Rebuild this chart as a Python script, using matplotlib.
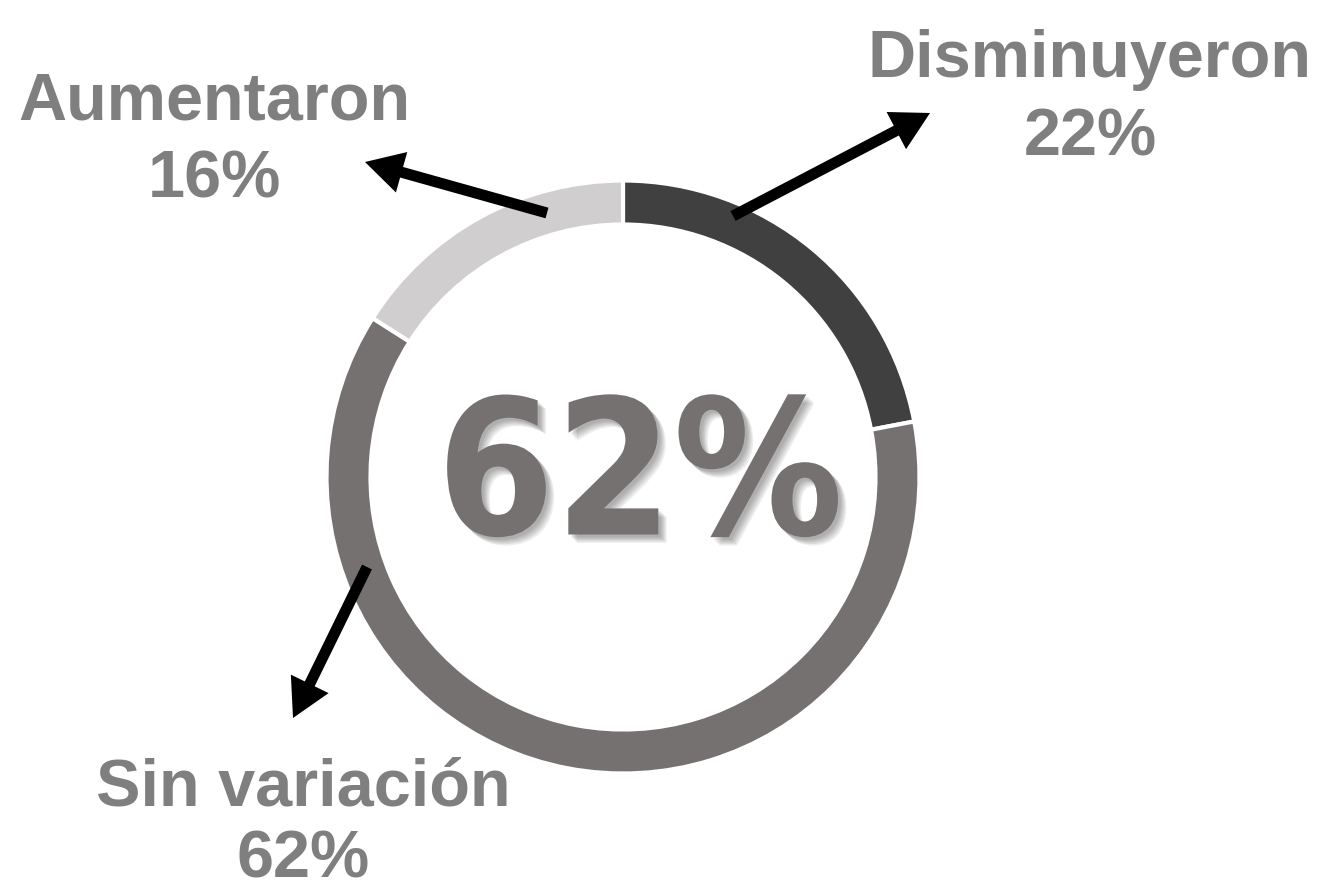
import matplotlib
matplotlib.use("Agg")
import matplotlib.pyplot as plt
import matplotlib.patheffects as pe

# data
categories = ["Disminuyeron", "Sin variación", "Aumentaron"]
percentages = [22, 62, 16]
colors = ["#404040", "#757171", "#d0cece"]

W, H = 1326, 889
LABEL_COLOR = "#7f7f7f"

fig = plt.figure(figsize=(W / 100, H / 100), dpi=100)
ax = fig.add_axes([0, 0, 1, 1])

# ring, drawn in pixel-like data units (y measured upward)
cx, cy = 623, H - 477
r_out, ring_w, gap = 295, 41, 3

ax.pie(
    percentages,
    colors=colors,
    startangle=90,
    counterclock=False,
    center=(cx, cy),
    radius=r_out + gap / 2,
    wedgeprops=dict(width=ring_w + gap, edgecolor="white", linewidth=gap),
)

ax.set_xlim(0, W)
ax.set_ylim(0, H)
ax.set_aspect("equal")
ax.axis("off")

# big number in the middle (largest share), soft shadow built from a few layers
big = max(percentages)
shadow = [
    pe.SimplePatchShadow(offset=(d, -d), shadow_rgbFace="black", alpha=0.07)
    for d in (2, 3, 4, 5, 6)
]
ax.text(
    640, H - 482, f"{big}%",
    ha="center", va="center",
    fontsize=136, fontweight="bold", fontstretch="condensed",
    family=["DejaVu Sans"], color=colors[1],
    path_effects=shadow + [pe.Normal()],
)

# labels: (x center, baseline of first line, baseline of second line)
label_pos = {
    "Disminuyeron": (1090, H - 77, H - 156),
    "Sin variación": (303, H - 805, H - 877),
    "Aumentaron": (214, H - 120, H - 198),
}
for name, pct in zip(categories, percentages):
    x, y1, y2 = label_pos[name]
    ax.text(x, y1, name, ha="center", va="baseline", fontsize=48,
            fontweight="bold", family=["Liberation Sans", "DejaVu Sans"],
            color=LABEL_COLOR)
    ax.text(x, y2, f"{pct}%", ha="center", va="baseline", fontsize=48,
            fontweight="bold", family=["Liberation Sans", "DejaVu Sans"],
            color=LABEL_COLOR)

# arrows from ring to labels (start, tip) in pixel coords of the image
arrows = {
    "Disminuyeron": ((733, 216), (930, 113)),
    "Aumentaron": ((547, 213), (365, 162)),
    "Sin variación": ((367, 567), (293, 718)),
}
for name in categories:
    (x0, y0), (x1, y1) = arrows[name]
    ax.arrow(
        x0, H - y0, x1 - x0, (H - y1) - (H - y0),
        width=11, head_width=42, head_length=38,
        length_includes_head=True, color="black", lw=0,
    )

fig.savefig("out.png", dpi=100)
